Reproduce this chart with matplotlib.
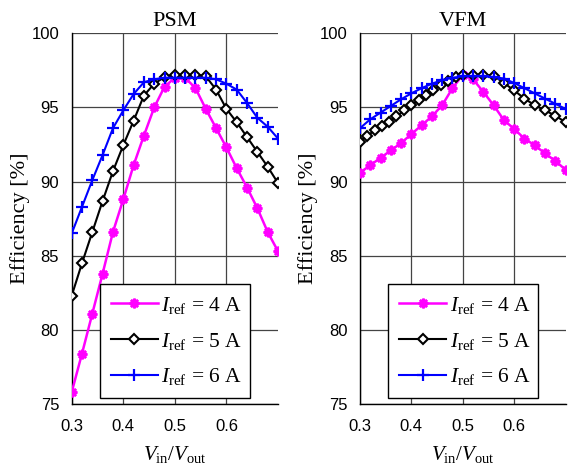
import matplotlib
matplotlib.use("Agg")
import matplotlib.pyplot as plt

plt.rcParams['mathtext.fontset'] = 'custom'
plt.rcParams['mathtext.rm'] = 'Liberation Serif'
plt.rcParams['mathtext.it'] = 'Liberation Serif:italic'

# ---------------- data ----------------
x_psm = [0.30, 0.32, 0.34, 0.36, 0.38, 0.40, 0.42, 0.44, 0.46, 0.48, 0.50,
         0.52, 0.54, 0.56, 0.58, 0.60, 0.62, 0.64, 0.66, 0.68, 0.70]
psm_4a = [75.8, 78.4, 81.1, 83.8, 86.6, 88.8, 91.1, 93.1, 95.0, 96.4, 97.0,
          97.0, 96.3, 94.9, 93.6, 92.3, 90.9, 89.6, 88.2, 86.6, 85.3]
psm_5a = [82.3, 84.5, 86.6, 88.7, 90.7, 92.45, 94.1, 95.8, 96.6, 97.05, 97.2,
          97.2, 97.2, 97.1, 96.2, 94.9, 94.0, 93.0, 92.0, 91.0, 89.9]
psm_6a = [86.5, 88.3, 90.1, 91.8, 93.6, 94.8, 95.9, 96.7, 96.9, 97.0, 97.0,
          97.0, 97.0, 97.0, 96.9, 96.6, 96.2, 95.3, 94.3, 93.7, 92.9]

x_vfm = x_psm
vfm_4a = [90.6, 91.1, 91.6, 92.1, 92.6, 93.2, 93.8, 94.4, 95.15, 96.3, 97.2,
          96.9, 96.05, 95.15, 94.15, 93.55, 92.9, 92.45, 91.9, 91.4, 90.8]
x_vfm5 = [0.300, 0.314, 0.329, 0.343, 0.357, 0.371, 0.386, 0.400, 0.414, 0.429,
          0.443, 0.457, 0.471, 0.486, 0.500, 0.52, 0.54, 0.56, 0.58, 0.60,
          0.62, 0.64, 0.66, 0.68, 0.70]
vfm_5a = [92.7, 93.1, 93.45, 93.75, 94.05, 94.4, 94.8, 95.15, 95.5, 95.85,
          96.2, 96.5, 96.8, 97.05, 97.2, 97.2, 97.2, 97.15, 96.65, 96.15,
          95.6, 95.15, 94.8, 94.45, 94.0]
vfm_6a = [93.6, 94.2, 94.65, 95.1, 95.55, 95.95, 96.3, 96.6, 96.85, 97.0, 97.1,
          97.1, 97.1, 97.05, 96.95, 96.65, 96.3, 95.95, 95.6, 95.25, 94.9]

labels = [r'$I_{\mathrm{ref}}\,\mathrm{=\,4\ A}$',
          r'$I_{\mathrm{ref}}\,\mathrm{=\,5\ A}$',
          r'$I_{\mathrm{ref}}\,\mathrm{=\,6\ A}$']
titles = ['PSM', 'VFM']
xticks = [0.3, 0.4, 0.5, 0.6]
yticks = [75, 80, 85, 90, 95, 100]

# ---------------- figure ----------------
W, H = 568, 465
fig = plt.figure(figsize=(W / 100, H / 100), dpi=100)

def ax_rect(x0, x1, y0, y1):
    return [x0 / W, 1 - y1 / H, (x1 - x0) / W, (y1 - y0) / H]

axes = [fig.add_axes(ax_rect(71.7, 278, 33.3, 404)),
        fig.add_axes(ax_rect(360, 565.5, 33.3, 404))]

asterisk = (8, 2, 0)

datasets = [
    (x_psm, psm_4a, x_psm, psm_5a, x_psm, psm_6a),
    (x_vfm, vfm_4a, x_vfm5, vfm_5a, x_vfm, vfm_6a),
]
ylabel_pads = [1, 1]

for ax, title, d, ypad in zip(axes, titles, datasets, ylabel_pads):
    xa, ya, xb, yb, xc, yc = d
    ax.set_axisbelow(True)
    ax.grid(True, color='#444444', linewidth=0.9)
    ax.plot(xa, ya, color='#ff00ff', lw=1.8, marker=asterisk, ms=7, mew=1.8,
            label=labels[0], zorder=3)
    ax.plot(xb, yb, color='black', lw=1.5, marker='D', ms=5.5, mew=1.5,
            mfc='white', label=labels[1], zorder=4)
    ax.plot(xc, yc, color='#0000ff', lw=1.5, marker='+', ms=8.5, mew=1.6,
            label=labels[2], zorder=5)
    ax.set_xlim(0.3, 0.7)
    ax.set_ylim(75, 100)
    ax.set_xticks(xticks)
    ax.set_yticks(yticks)
    ax.set_xticklabels(['0.3', '0.4', '0.5', '0.6'], family='Liberation Sans', fontsize=12)
    ax.set_yticklabels([str(v) for v in yticks], family='Liberation Sans', fontsize=12)
    ax.tick_params(axis='x', direction='in', length=0, pad=11)
    ax.tick_params(axis='y', direction='in', length=0, pad=9)
    for s in ['top', 'right']:
        ax.spines[s].set_visible(False)
    for s in ['left', 'bottom']:
        ax.spines[s].set_linewidth(1.0)
    ax.set_title(title, family='Liberation Serif', fontsize=16, pad=5)
    ax.set_ylabel('Efficiency [%]', family='Liberation Serif', fontsize=16, labelpad=ypad)
    ax.set_xlabel(r'$V_{\mathrm{in}}/V_{\mathrm{out}}$', fontsize=15, labelpad=7)
    leg = ax.legend(loc='lower left', bbox_to_anchor=(0.137, 0.016, 0.727, 0.31),
                    mode='expand', fontsize=15.5, frameon=True, fancybox=False,
                    edgecolor='black', framealpha=1, handlelength=2.2,
                    borderpad=0.5, labelspacing=0.68, handletextpad=0.15,
                    borderaxespad=0)
    leg.get_frame().set_linewidth(1.0)

fig.savefig('out.png', dpi=100)
